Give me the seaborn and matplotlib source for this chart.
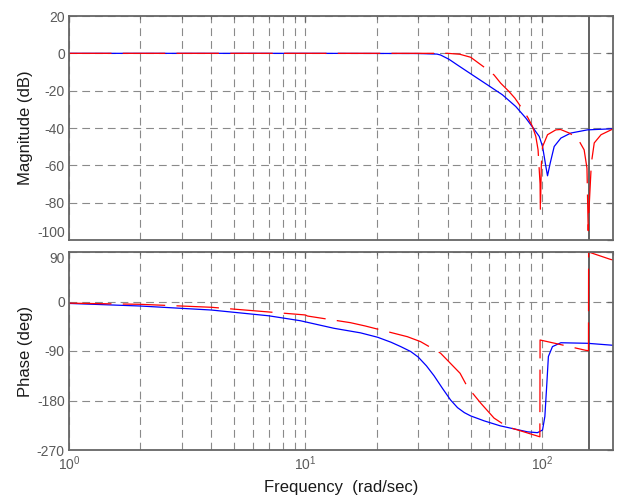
import matplotlib
matplotlib.use("Agg")
import matplotlib.pyplot as plt
import seaborn as sns
import numpy as np
from matplotlib.ticker import LogLocator, FixedLocator, NullFormatter

# ---------------- data ----------------
w_blue_mag = [1, 10, 30, 36, 37.3, 40.5, 43.9, 50.9, 58.9, 68.1, 77.6, 85.6, 91.3, 97.5,
              100.7, 104, 105.7, 108.5, 112.8, 120.4, 132.7, 156, 200]
blue_mag = [0, 0, -0.1, -0.4, -0.9, -3.2, -6.2, -11.6, -16.9, -22.2, -28.5, -34.7, -39.5, -44.5,
            -49.9, -60.6, -65.6, -58.8, -49.9, -45.4, -42.7, -41.0, -40.4]

w_red_mag = [1, 10, 40, 45, 50, 57, 62.8, 67, 72.7, 76.9, 84.2, 87.5, 91.3, 94.3, 96.4,
             98.3, 98.6, 99.5, 100.7, 105.7, 114.6, 120, 130.6, 141.5, 151, 155.2,
             157.1, 157.4, 162, 166.6, 178, 200]
red_mag = [0, 0, 0, -0.5, -2.1, -7.4, -11.6, -16.0, -20.5, -24.0, -31.2, -34.7, -39.2, -44.5, -51.7,
           -70.0, -85.0, -60.0, -50.0, -43.6, -41.0, -40.8, -42.7, -45.4, -51.7, -61.5,
           -95.0, -90.0, -58.8, -48.0, -43.6, -40.5]

w_blue_ph = [1, 2, 4, 7, 9.5, 13.2, 17.1, 20.2, 23, 25.3, 27.9, 30, 32.5, 35, 38, 41.1, 44, 47,
             50, 57, 66.6, 71.6, 87, 95.8, 100.7, 103, 105, 106.6, 110.9, 120.4, 156, 200]
blue_ph = [-3.5, -8.2, -15.5, -26, -34.9, -48.7, -57, -65, -74, -82, -91, -101, -117, -135, -158, -179,
           -193, -202, -208, -217, -226, -229, -237, -238.5, -233.6, -209, -149, -100, -82, -75, -76, -79.6]

w_red_ph = [1, 2, 4, 10, 10.2, 15.5, 17.9, 27, 30.7, 37.3, 45.1, 48.4, 55.2, 62.8, 71.6, 85,
            98.1, 98.3, 120, 153.5, 157.5, 157.7, 194.7, 200]
red_ph = [-3, -5.1, -10.5, -24.5, -26.4, -38.5, -44.5, -64, -73, -94, -130.5, -155, -185, -212, -228, -237.7,
          -246, -70, -78.3, -88.8, -89.5, 90, 76.7, 75.5]

mag_ticks = [-100, -80, -60, -40, -20, 0, 20]
ph_ticks = [-270, -180, -90, 0, 90]
vline_w = 157.6

# ---------------- style ----------------
sns.set_theme(style="white")
plt.rcParams["font.family"] = ["Liberation Sans", "DejaVu Sans"]
plt.rcParams["mathtext.fontset"] = "custom"
plt.rcParams["mathtext.rm"] = "Liberation Sans"
plt.rcParams["mathtext.it"] = "Liberation Sans:italic"
plt.rcParams["axes.unicode_minus"] = False

fig = plt.figure(figsize=(6.21, 5.0), dpi=100)
ax1 = fig.add_axes([69 / 621, 1 - 240 / 500, 544 / 621, 224 / 500])
ax2 = fig.add_axes([69 / 621, 1 - 450 / 500, 544 / 621, 198 / 500])

spine_c = "#666666"
tick_c = "#5a5a5a"
grid_kw = dict(color="#8a8a8a", linestyle=(0, (7, 4.5)), linewidth=0.8)
red_ls = (0, (34, 9))

def style_axes(ax, yticks, ylim):
    ax.set_xscale("log")
    ax.set_xlim(1, 200)
    ax.set_ylim(*ylim)
    ax.yaxis.set_major_locator(FixedLocator(yticks))
    ax.xaxis.set_major_locator(LogLocator(base=10))
    ax.xaxis.set_minor_locator(LogLocator(base=10, subs=np.arange(2, 10)))
    ax.xaxis.set_minor_formatter(NullFormatter())
    ax.grid(True, which="major", **grid_kw)
    ax.grid(True, which="minor", axis="x", **grid_kw)
    for s in ax.spines.values():
        s.set_color(spine_c)
        s.set_linewidth(1.3)
    ax.tick_params(which="both", direction="in", top=True, right=True,
                   colors=spine_c, labelcolor=tick_c, labelsize=10)
    ax.tick_params(which="major", length=4, width=0.9, pad=3)
    ax.tick_params(which="minor", length=2.5, width=0.8)
    ax.set_axisbelow(True)

# magnitude
sns.lineplot(x=w_blue_mag, y=blue_mag, ax=ax1, color="#0000ff", lw=0.9,
             sort=False, estimator=None)
sns.lineplot(x=w_red_mag, y=red_mag, ax=ax1, color="#ff0000", lw=0.9,
             sort=False, estimator=None, linestyle=red_ls)
style_axes(ax1, mag_ticks, (-100, 20))
ax1.tick_params(labelbottom=False)
ax1.axvline(vline_w, color="#555555", lw=1.3, zorder=1.5)
ax1.set_ylabel("Magnitude (dB)", fontsize=12, color="#1a1a1a")
ax1.yaxis.set_label_coords(-0.066, 0.5)
ax1.set_xlabel("")
# keep the bottom label of the magnitude axis clear of the top phase label
for lab in ax1.get_yticklabels():
    if lab.get_text() in ("-100",):
        lab.set_va("bottom")

# phase
sns.lineplot(x=w_blue_ph, y=blue_ph, ax=ax2, color="#0000ff", lw=0.9,
             sort=False, estimator=None)
sns.lineplot(x=w_red_ph, y=red_ph, ax=ax2, color="#ff0000", lw=0.9,
             sort=False, estimator=None, linestyle=red_ls)
style_axes(ax2, ph_ticks, (-270, 90))
ax2.axvline(vline_w, color="#555555", lw=1.3, zorder=1.5)
ax2.set_ylabel("Phase (deg)", fontsize=12, color="#1a1a1a")
ax2.yaxis.set_label_coords(-0.066, 0.5)
ax2.set_xlabel("Frequency  (rad/sec)", fontsize=12, color="#1a1a1a", labelpad=5)

fig.canvas.draw()
for lab in ax1.get_yticklabels():
    if lab.get_text() == "-100":
        lab.set_va("bottom")
for lab in ax2.get_yticklabels():
    if lab.get_text() == "90":
        lab.set_va("top")

fig.savefig("out.png", dpi=100)
